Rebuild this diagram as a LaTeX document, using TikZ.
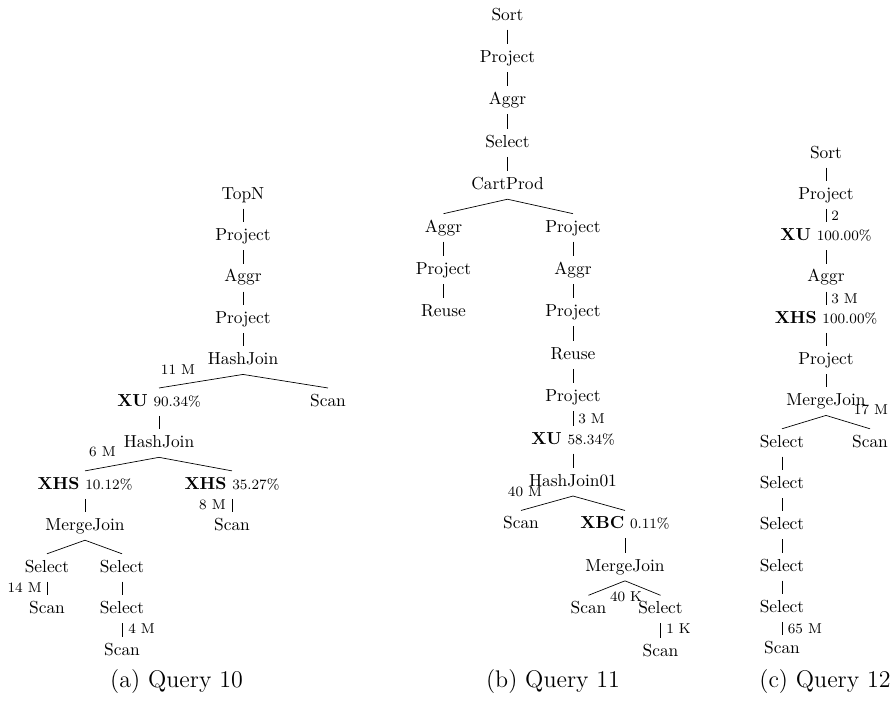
\documentclass[tikz,border=0pt]{standalone}
\begin{document}
\begin{tikzpicture}[x=0.5747pt,y=-0.5747pt,
  tn/.style={inner sep=3.33pt,text height=7pt,text depth=2pt,anchor=base},
  lab/.style={inner sep=0pt,font=\fontsize{8.2}{10}\selectfont,anchor=base},
  labw/.style={lab,anchor=base west},
  labe/.style={lab,anchor=base east},
  subcaption/.style={inner sep=0pt,anchor=base,font=\fontsize{13.8}{16.5}\selectfont}]
\newcommand\pct[1]{{\fontsize{8.2}{10}\selectfont #1}}
\useasboundingbox (0,0) rectangle (893,702);

% ---------------- (a) Query 10 ----------------
\node[tn] (a0) at (243,199) {TopN};
\node[tn] (a1) at (243,240.5) {Project};
\node[tn] (a2) at (243,281.9) {Aggr};
\node[tn] (a3) at (243,323.4) {Project};
\node[tn] (a4) at (243,364.8) {HashJoin};
\node[tn] (a5) at (159,406.3) {\textbf{XU} \pct{90.34\%}};
\node[tn] (a6) at (328,406.3) {Scan};
\node[tn] (a7) at (159,447.7) {HashJoin};
\node[tn] (a8) at (85,489.2) {\textbf{XHS} \pct{10.12\%}};
\node[tn] (a9) at (232,489.2) {\textbf{XHS} \pct{35.27\%}};
\node[tn] (a10) at (85,530.6) {MergeJoin};
\node[tn] (a11) at (232,530.6) {Scan};
\node[tn] (a12) at (47,572.1) {Select};
\node[tn] (a13) at (122,572.1) {Select};
\node[tn] (a14) at (47,613.5) {Scan};
\node[tn] (a15) at (122,613.5) {Select};
\node[tn] (a16) at (122,655) {Scan};
\foreach \p/\c in {a0/a1,a1/a2,a2/a3,a3/a4,a4/a5,a4/a6,a5/a7,a7/a8,a7/a9,
  a8/a10,a9/a11,a10/a12,a10/a13,a12/a14,a13/a15,a15/a16}
  \draw (\p.south) -- (\c.north);
\node[lab] (la1) at (178,374) {11 M};
\node[lab] (la2) at (102.5,456.5) {6 M};
\node[labe] (la3) at (226,509) {8 M};
\node[labe] (la4) at (42,592.5) {14 M};
\node[labw] (la5) at (128,633) {4 M};
\node[subcaption] (capa) at (176.5,687) {(a) Query 10};

% ---------------- (b) Query 11 ----------------
\node[tn] (b0) at (507.5,20) {Sort};
\node[tn] (b1) at (507.5,62.4) {Project};
\node[tn] (b2) at (507.5,104.8) {Aggr};
\node[tn] (b3) at (507.5,147.2) {Select};
\node[tn] (b4) at (507.5,189.6) {CartProd};
\node[tn] (b5) at (443.5,232) {Aggr};
\node[tn] (b6) at (443.5,274.4) {Project};
\node[tn] (b7) at (443.5,316.8) {Reuse};
\node[tn] (b8) at (573,232) {Project};
\node[tn] (b9) at (573,274.4) {Aggr};
\node[tn] (b10) at (573,316.8) {Project};
\node[tn] (b11) at (573,359.2) {Reuse};
\node[tn] (b12) at (573,401.6) {Project};
\node[tn] (b13) at (573,444) {\textbf{XU} \pct{58.34\%}};
\node[tn] (b14) at (573,486.4) {HashJoin01};
\node[tn] (b15) at (521,528.8) {Scan};
\node[tn] (b16) at (625,528.8) {\textbf{XBC} \pct{0.11\%}};
\node[tn] (b17) at (625,571.2) {MergeJoin};
\node[tn] (b18) at (588.5,613.6) {Scan};
\node[tn] (b19) at (660.5,613.6) {Select};
\node[tn] (b20) at (660.5,656) {Scan};
\foreach \p/\c in {b0/b1,b1/b2,b2/b3,b3/b4,b4/b5,b4/b8,b5/b6,b6/b7,b8/b9,
  b9/b10,b10/b11,b11/b12,b12/b13,b13/b14,b14/b15,b14/b16,b16/b17,b17/b18,
  b17/b19,b19/b20}
  \draw (\p.south) -- (\c.north);
\node[labw] (lb1) at (578,423) {3 M};
\node[lab] (lb2) at (525,496.5) {40 M};
\node[lab] (lb3) at (626,601) {40 K};
\node[labw] (lb4) at (666,633) {1 K};
\node[subcaption] (capb) at (553,687) {(b) Query 11};

% ---------------- (c) Query 12 ----------------
\node[tn] (c0) at (826,158) {Sort};
\node[tn] (c1) at (826,199.3) {Project};
\node[tn] (c2) at (826,240.6) {\textbf{XU} \pct{100.00\%}};
\node[tn] (c3) at (826,281.9) {Aggr};
\node[tn] (c4) at (826,323.2) {\textbf{XHS} \pct{100.00\%}};
\node[tn] (c5) at (826,364.5) {Project};
\node[tn] (c6) at (826,405.8) {MergeJoin};
\node[tn] (c7) at (782,447.1) {Select};
\node[tn] (c8) at (782,488.4) {Select};
\node[tn] (c9) at (782,529.7) {Select};
\node[tn] (c10) at (782,571) {Select};
\node[tn] (c11) at (782,612.3) {Select};
\node[tn] (c12) at (782,653.6) {Scan};
\node[tn] (c13) at (870,447.1) {Scan};
\foreach \p/\c in {c0/c1,c1/c2,c2/c3,c3/c4,c4/c5,c5/c6,c6/c7,c6/c13,
  c7/c8,c8/c9,c9/c10,c10/c11,c11/c12}
  \draw (\p.south) -- (\c.north);
\node[labw] (lc1) at (831,220) {2};
\node[labw] (lc2) at (831,303.5) {3 M};
\node[lab] (lc3) at (871,414) {17 M};
\node[labw] (lc4) at (787.5,633) {65 M};
\node[subcaption] (capc) at (825,687) {(c) Query 12};
\end{tikzpicture}
\end{document}
